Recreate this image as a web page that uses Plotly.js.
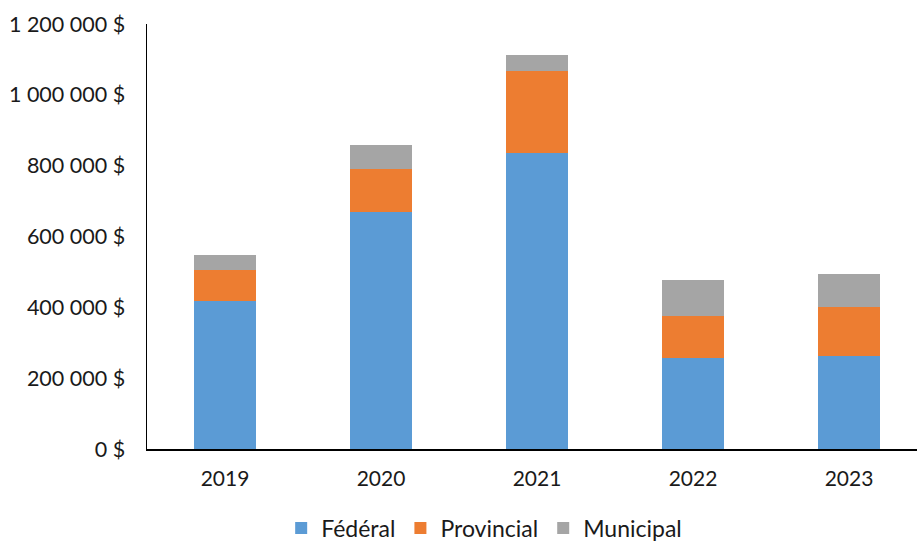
<!DOCTYPE html>
<html>
<head>
<meta charset="utf-8">
<script src="https://cdn.plot.ly/plotly-3.0.1.min.js"></script>
<style>html,body{margin:0;padding:0;background:#fff;}#chart{width:917px;height:541px;}</style>
</head>
<body>
<div id="chart"></div>
<script>
const years = ['2019', '2020', '2021', '2022', '2023'];
const federal = [417000, 670000, 835000, 258000, 263000];
const provincial = [89000, 120000, 232000, 118000, 137000];
const municipal = [41000, 68000, 46000, 102000, 95000];
const seriesNames = ['Fédéral', 'Provincial', 'Municipal'];
const tickVals = [0, 200000, 400000, 600000, 800000, 1000000, 1200000];
const tickText = ['0 $', '200 000 $', '400 000 $', '600 000 $', '800 000 $', '1 000 000 $', '1 200 000 $'];

const colors = ['#5b9bd5', '#ed7d31', '#a5a5a5'];
const font = 'Lato, "Open Sans", sans-serif';

const traces = [federal, provincial, municipal].map((vals, i) => ({
  type: 'bar',
  name: seriesNames[i],
  x: years,
  y: vals,
  marker: {color: colors[i], line: {width: 0}},
  hoverinfo: 'skip'
}));

const layout = {
  width: 917,
  height: 541,
  barmode: 'stack',
  bargap: 0.6,
  margin: {l: 147, r: 0, t: 24, b: 92, pad: 0},
  paper_bgcolor: '#fff',
  plot_bgcolor: '#fff',
  font: {family: font, size: 21, color: '#1a1a1a'},
  xaxis: {
    type: 'category',
    range: [-0.5, 4.436],
    showline: true, linecolor: '#000', linewidth: 1.5,
    showgrid: false, zeroline: false,
    ticks: 'outside', ticklen: 10, tickcolor: 'rgba(0,0,0,0)',
    tickfont: {size: 21, color: '#1a1a1a'},
    fixedrange: true
  },
  yaxis: {
    range: [0, 1200000],
    tickmode: 'array',
    tickvals: tickVals,
    ticktext: tickText,
    showline: true, linecolor: '#000', linewidth: 1.5,
    showgrid: false, zeroline: false,
    ticks: 'outside', ticklen: 16, tickcolor: 'rgba(0,0,0,0)',
    tickfont: {size: 21.5, color: '#1a1a1a'},
    fixedrange: true
  },
  showlegend: true,
  legend: {
    orientation: 'h',
    xref: 'container', yref: 'container',
    x: 0.528, xanchor: 'center',
    y: 0.024, yanchor: 'middle',
    font: {size: 23, color: '#1a1a1a'},
    itemwidth: 30,
    traceorder: 'normal'
  }
};

Plotly.newPlot('chart', traces, layout, {displayModeBar: false, staticPlot: true});
</script>
</body>
</html>
